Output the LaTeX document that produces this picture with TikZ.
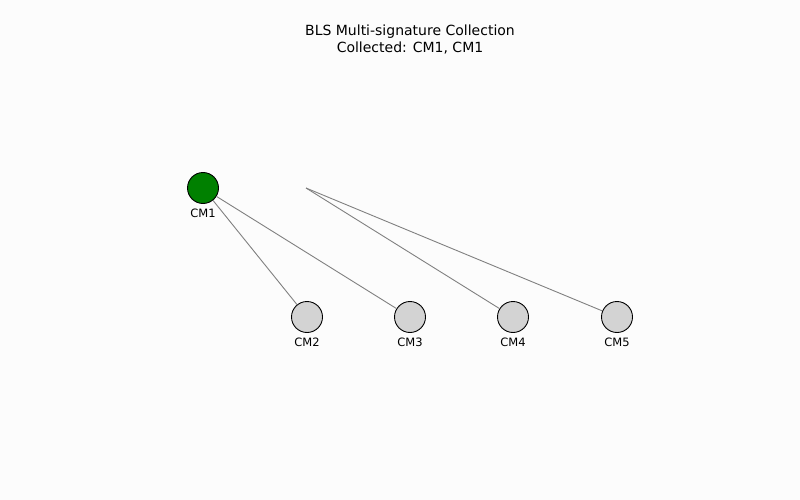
\documentclass[tikz,border=0pt]{standalone}
\usepackage{fontspec}
\setmainfont{DejaVu Sans}
\definecolor{cmgreen}{RGB}{0,128,0}
\definecolor{cmgray}{RGB}{211,211,211}
\begin{document}
\begin{tikzpicture}[x=1pt,y=-1pt,
  cmnode/.style={circle,draw=black,line width=0.9pt,minimum size=31pt,inner sep=0pt},
  lbl/.style={font=\fontsize{11.5}{13}\selectfont,inner sep=0pt},
  link/.style={draw=gray,line width=0.9pt}]
\fill[white!99!black] (0,0) rectangle (800,500);
\useasboundingbox (0,0) rectangle (800,500);
\node[font=\fontsize{14}{17}\selectfont,align=center] (title) at (410,39) {BLS Multi-signature Collection\\Collected: CM1, CM1};
\coordinate (f) at (306,188);
\node[cmnode,fill=cmgreen] (cm1) at (203,188) {};
\node[cmnode,fill=cmgray] (cm2) at (307,317) {};
\node[cmnode,fill=cmgray] (cm3) at (410,317) {};
\node[cmnode,fill=cmgray] (cm4) at (513,317) {};
\node[cmnode,fill=cmgray] (cm5) at (617,317) {};
\node[lbl] (l1) at (203,213) {CM1};
\node[lbl] (l2) at (307,342) {CM2};
\node[lbl] (l3) at (410,342) {CM3};
\node[lbl] (l4) at (513,342) {CM4};
\node[lbl] (l5) at (617,342) {CM5};
\draw[link] (cm1) -- (cm2);
\draw[link] (cm1) -- (cm3);
\draw[link] (f) -- (cm4);
\draw[link] (f) -- (cm5);
\end{tikzpicture}
\end{document}
